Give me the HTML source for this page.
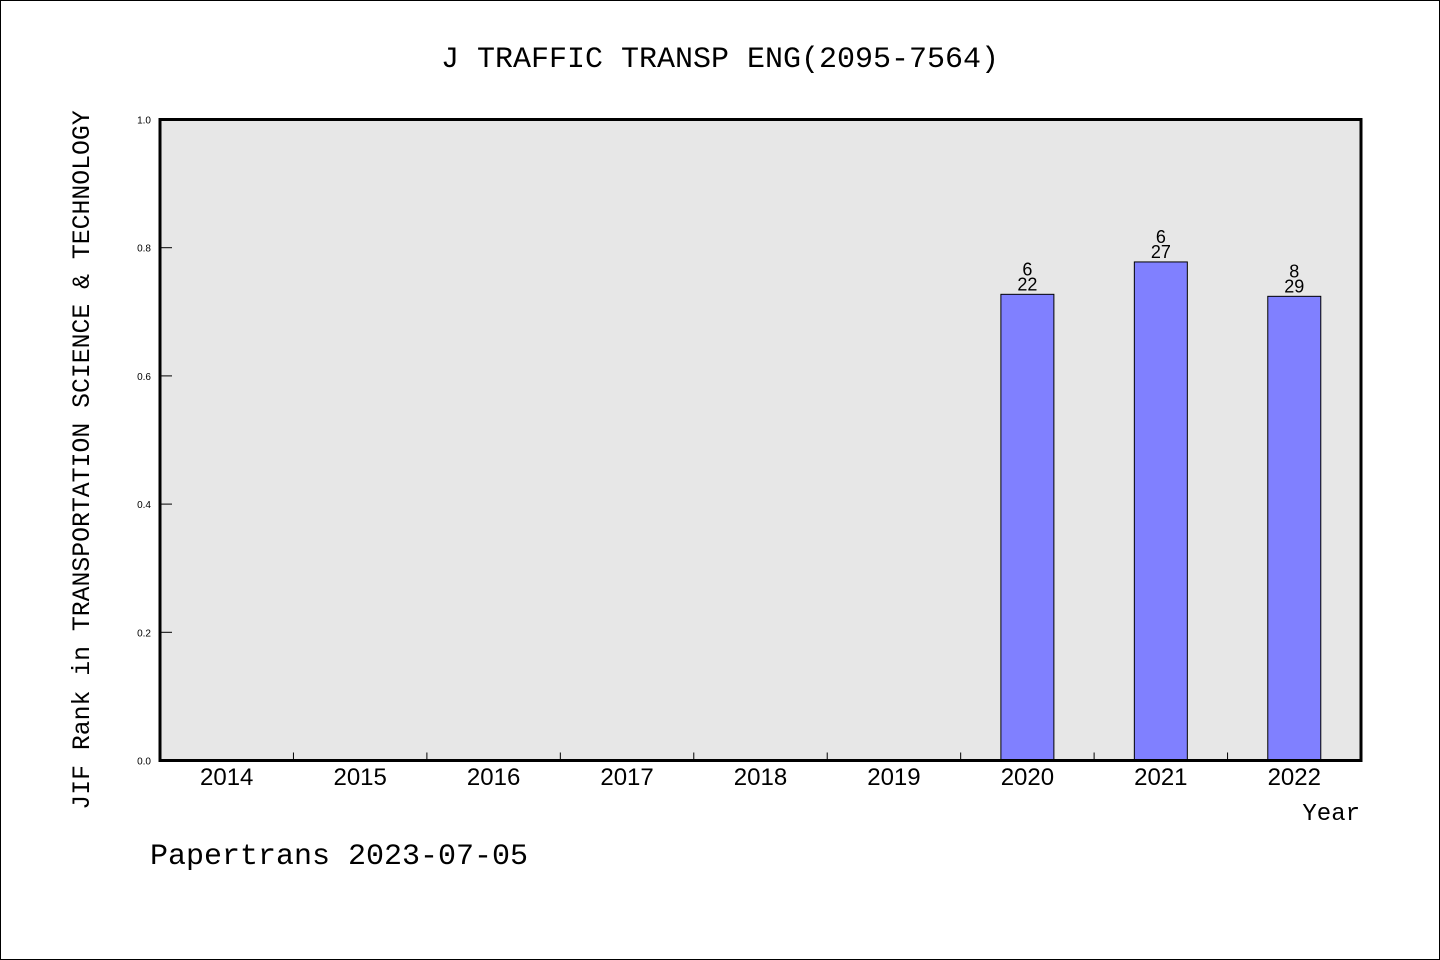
<!DOCTYPE html>
<html><head><meta charset="utf-8"><style>
html,body{margin:0;padding:0;background:#fff;}
svg{display:block;}
.m{font-family:"Liberation Mono","WenQuanYi Zen Hei",monospace;}
.s{font-family:"Liberation Sans","DejaVu Sans",sans-serif;}
</style></head><body>
<svg id="chart" width="1440" height="960" viewBox="0 0 1440 960" xmlns="http://www.w3.org/2000/svg">
<rect x="0.5" y="0.5" width="1439" height="959" fill="#fff" stroke="#000" stroke-width="1"/>
<text class="m" x="720" y="67" font-size="30" text-anchor="middle">J TRAFFIC TRANSP ENG(2095-7564)</text>
<rect x="160" y="119.5" width="1201" height="641" fill="#e7e7e7"/>
<g id="bars"></g>
<g id="axes"></g>
<rect x="160" y="119.5" width="1201" height="641" fill="none" stroke="#000" stroke-width="3"/>
<text class="m" transform="translate(89,460) rotate(-90)" font-size="24.8" text-anchor="middle">JIF Rank in TRANSPORTATION SCIENCE &amp; TECHNOLOGY</text>
<text class="m" x="1360" y="820" font-size="24" text-anchor="end">Year</text>
<text class="m" x="150" y="864" font-size="30">Papertrans 2023-07-05</text>
</svg>
<script>
const years = ['2014','2015','2016','2017','2018','2019','2020','2021','2022'];
const ranks = [null,null,null,null,null,null,6,6,8];
const totals = [null,null,null,null,null,null,22,27,29];
const yTicks = [0.0,0.2,0.4,0.6,0.8,1.0];
const yTickLabels = ['0.0','0.2','0.4','0.6','0.8','1.0'];

const NS='http://www.w3.org/2000/svg';
const L=160,R=1361,T=119.5,B=760.5;
const bw=(R-L)/years.length;
const xC=i=>L+bw*(i+0.5);
const yS=v=>B-v*(B-T);
function mk(tag,attrs,parent){const e=document.createElementNS(NS,tag);for(const k in attrs)e.setAttribute(k,attrs[k]);parent.appendChild(e);return e;}
const gb=document.getElementById('bars'),ga=document.getElementById('axes');
years.forEach((y,i)=>{
  if(ranks[i]!=null){
    const v=1-ranks[i]/totals[i];
    const r=mk('rect',{x:xC(i)-26.5,y:yS(v),width:53,height:B-yS(v),fill:'#8080ff',stroke:'#000','stroke-width':1},gb);
    
    
    const t1=mk('text',{x:xC(i),y:yS(v)-19,'font-size':18,'text-anchor':'middle',class:'s'},gb);
    t1.textContent=ranks[i];
    
    
    const t2=mk('text',{x:xC(i),y:yS(v)-4,'font-size':18,'text-anchor':'middle',class:'s'},gb);
    t2.textContent=totals[i];
    
    
  }
  const lab=mk('text',{x:xC(i),y:785,'font-size':24,'text-anchor':'middle',class:'s'},ga);
  lab.textContent=y;
  
  
  if(i>0){
    const tk=mk('line',{x1:L+bw*i,x2:L+bw*i,y1:B,y2:B-8,stroke:'#000','stroke-width':1},ga);
    
    
  }
});
yTicks.forEach((v,i)=>{
  const tk=mk('line',{x1:L,x2:L+12,y1:yS(v),y2:yS(v),stroke:'#000','stroke-width':1},ga);
  
  
  const t=mk('text',{x:151,y:yS(v)+4,'font-size':10,'text-anchor':'end',class:'s'},ga);
  t.textContent=yTickLabels[i];
  
  
});
</script>
</body></html>
